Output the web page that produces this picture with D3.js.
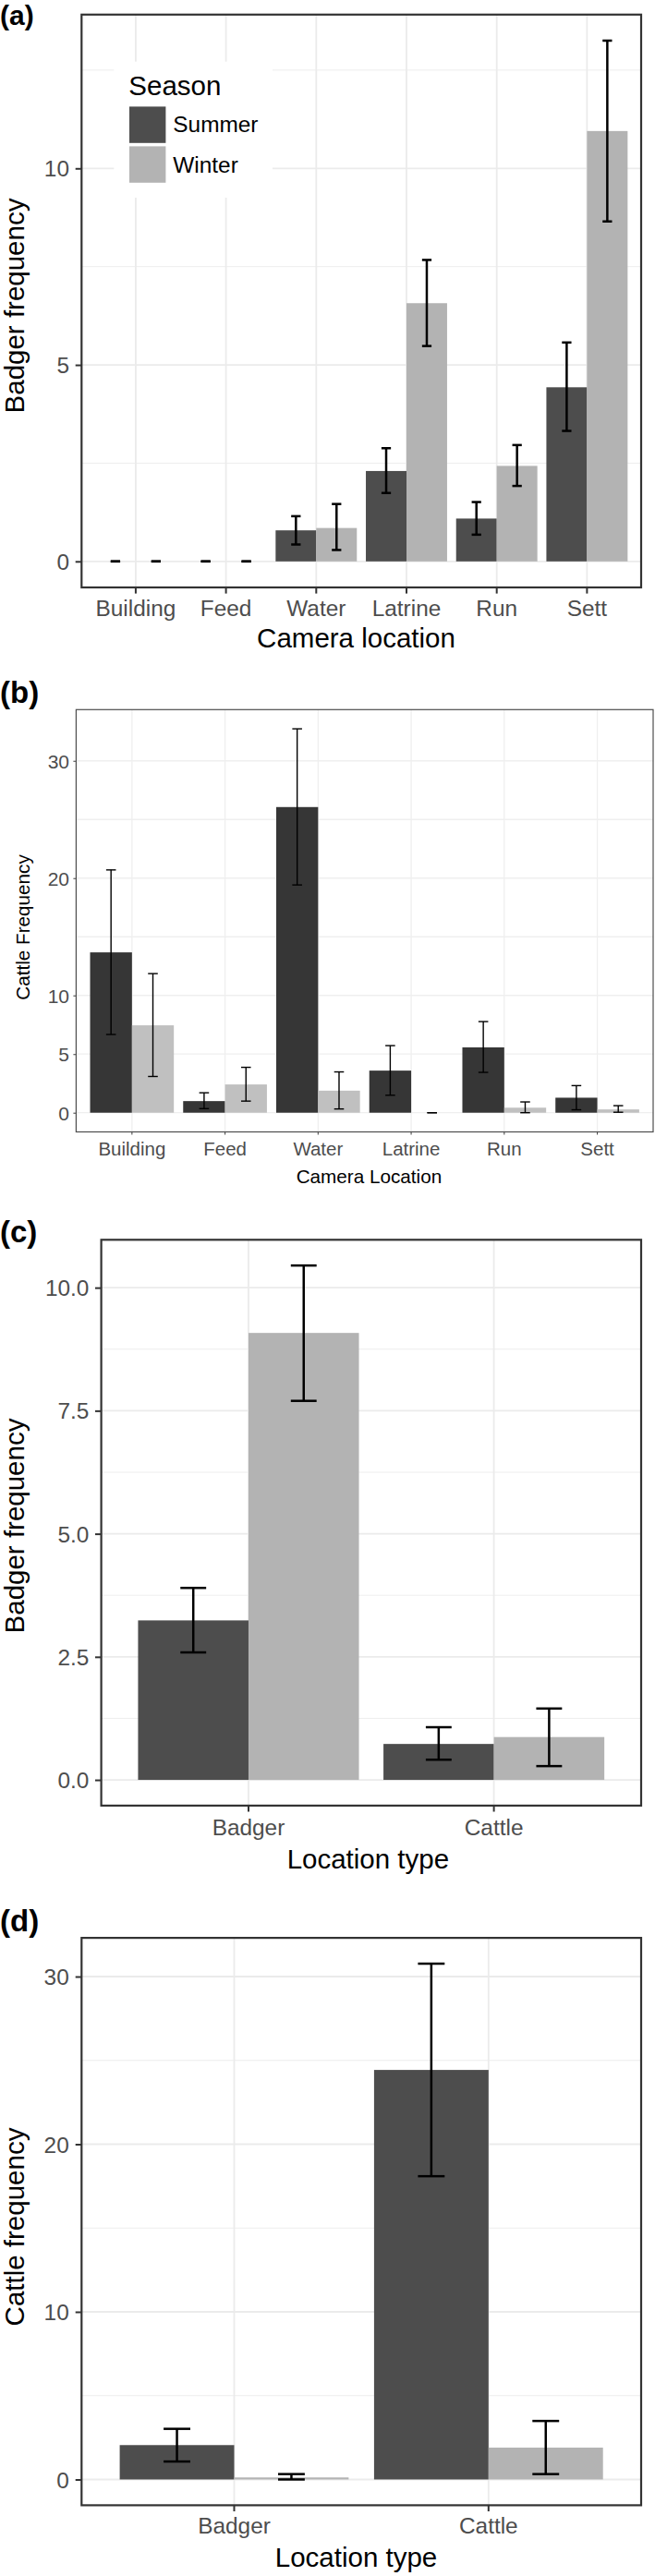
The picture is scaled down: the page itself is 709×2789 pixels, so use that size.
<!DOCTYPE html>
<html><head><meta charset="utf-8">
<script src="https://cdn.jsdelivr.net/npm/d3@7"></script>
<style>body{margin:0;background:#fff} svg{display:block}</style>
</head><body><svg id="chart" width="709" height="2789"></svg>
<script>
// ---------- data ----------
const seasons = ["Summer", "Winter"];
const locations = ["Building", "Feed", "Water", "Latrine", "Run", "Sett"];
const locationTypes = ["Badger", "Cattle"];

// (a) badger frequency by camera location
const badgerSummer   = [0, 0, 0.79, 2.30, 1.09, 4.43];
const badgerSummerLo = [0, 0, 0.43, 1.74, 0.68, 3.32];
const badgerSummerHi = [0, 0, 1.15, 2.88, 1.51, 5.57];
const badgerWinter   = [0, 0, 0.85, 6.57, 2.43, 10.95];
const badgerWinterLo = [0, 0, 0.29, 5.48, 1.92, 8.65];
const badgerWinterHi = [0, 0, 1.46, 7.67, 2.96, 13.25];

// (b) cattle frequency by camera location
const cattleSummer   = [13.67, 0.99, 26.06, 3.59, 5.57, 1.28];
const cattleSummerLo = [6.67, 0.35, 19.42, 1.49, 3.44, 0.25];
const cattleSummerHi = [20.70, 1.70, 32.73, 5.72, 7.77, 2.31];
const cattleWinter   = [7.45, 2.41, 1.88, 0, 0.43, 0.28];
const cattleWinterLo = [3.09, 0.99, 0.32, 0, 0.00, 0.04];
const cattleWinterHi = [11.86, 3.87, 3.48, 0, 0.92, 0.60];

// (c) badger frequency by location type
const typeBadgerSummer   = [3.24, 0.73];
const typeBadgerSummerLo = [2.59, 0.41];
const typeBadgerSummerHi = [3.90, 1.07];
const typeBadgerWinter   = [9.08, 0.87];
const typeBadgerWinterLo = [7.70, 0.28];
const typeBadgerWinterHi = [10.45, 1.45];

// (d) cattle frequency by location type
const typeCattleSummer   = [2.05, 24.43];
const typeCattleSummerLo = [1.07, 18.09];
const typeCattleSummerHi = [3.02, 30.77];
const typeCattleWinter   = [0.12, 1.90];
const typeCattleWinterLo = [0.00, 0.32];
const typeCattleWinterHi = [0.32, 3.49];

// tick labels
const ticksA = [0, 5, 10];
const minorA = [2.5, 7.5, 12.5];
const ticksB = [0, 5, 10, 20, 30];
const gridB = [0, 5, 10, 15, 20, 25, 30];
const ticksC = [0, 2.5, 5, 7.5, 10];
const minorC = [1.25, 3.75, 6.25, 8.75];
const ticksD = [0, 10, 20, 30];
const minorD = [5, 15, 25];

// ---------- drawing ----------
const FONT = "'Liberation Sans', Arial, Helvetica, sans-serif";
const svg = d3.select("#chart");
svg.append("rect").attr("width", 709).attr("height", 2789).attr("fill", "#fff");

function series(v, lo, hi) { return v.map((d, i) => ({ v: d, lo: lo[i], hi: hi[i] })); }

function drawPanel(o) {
  const g = svg.append("g");
  const x = d3.scaleBand().domain(o.cats).range([o.left, o.right]).paddingInner(0).paddingOuter(0.1);
  const step = x.step();
  const xs = d3.scaleBand().domain(seasons).range([-0.45 * step, 0.45 * step]);
  const all = o.data.flatMap(s => s.flatMap(d => [d.v, d.lo, d.hi]));
  const maxV = d3.max(all), minV = Math.min(0, d3.min(all));
  const pad = (maxV - minV) * 0.05;
  const y = d3.scaleLinear().domain([minV - pad, maxV + pad]).range([o.bottom, o.top]);
  const cx = c => x(c) + x.bandwidth() / 2;

  // gridlines
  g.selectAll(".minor").data(o.minor).join("line")
    .attr("x1", o.left).attr("x2", o.right).attr("y1", d => y(d)).attr("y2", d => y(d))
    .attr("stroke", o.gridColor).attr("stroke-width", o.minorW);
  g.selectAll(".major").data(o.grid).join("line")
    .attr("x1", o.left).attr("x2", o.right).attr("y1", d => y(d)).attr("y2", d => y(d))
    .attr("stroke", o.gridColor).attr("stroke-width", o.majorW);
  g.selectAll(".vgrid").data(o.cats).join("line")
    .attr("x1", d => cx(d)).attr("x2", d => cx(d)).attr("y1", o.top).attr("y2", o.bottom)
    .attr("stroke", o.gridColor).attr("stroke-width", o.majorW);

  // bars
  seasons.forEach((s, si) => {
    g.selectAll(".bar" + si).data(o.data[si]).join("rect")
      .attr("x", (d, i) => cx(o.cats[i]) + xs(s))
      .attr("width", xs.bandwidth())
      .attr("y", d => y(Math.max(0, d.v)))
      .attr("height", d => Math.abs(y(0) - y(d.v)))
      .attr("fill", o.colors[si]);
  });

  // error bars
  const capW = 0.105 * step;
  seasons.forEach((s, si) => {
    const eb = g.selectAll(".eb" + si).data(o.data[si]).join("g")
      .attr("transform", (d, i) => `translate(${cx(o.cats[i]) + xs(s) + xs.bandwidth() / 2},0)`);
    eb.append("line").attr("x1", 0).attr("x2", 0).attr("y1", d => y(d.lo)).attr("y2", d => y(d.hi))
      .attr("stroke", "#000").attr("stroke-width", o.ebW);
    eb.append("line").attr("x1", -capW / 2).attr("x2", capW / 2).attr("y1", d => y(d.lo)).attr("y2", d => y(d.lo))
      .attr("stroke", "#000").attr("stroke-width", o.ebW);
    eb.append("line").attr("x1", -capW / 2).attr("x2", capW / 2).attr("y1", d => y(d.hi)).attr("y2", d => y(d.hi))
      .attr("stroke", "#000").attr("stroke-width", o.ebW);
  });

  // border
  g.append("rect").attr("x", o.left).attr("y", o.top)
    .attr("width", o.right - o.left).attr("height", o.bottom - o.top)
    .attr("fill", "none").attr("stroke", o.borderColor).attr("stroke-width", o.borderW);

  // y axis
  const ya = g.append("g").attr("transform", `translate(${o.left},0)`)
    .call(d3.axisLeft(y).tickValues(o.ticks).tickFormat(o.fmt).tickSize(o.tickLen).tickPadding(o.yPad));
  ya.select(".domain").remove();
  ya.selectAll(".tick line").attr("stroke", o.borderColor).attr("stroke-width", o.tickW);
  ya.selectAll(".tick text").attr("font-family", FONT).attr("font-size", o.yTickSize)
    .attr("fill", "#4d4d4d").attr("dy", "0.35em");

  // x axis
  const xa = g.append("g").attr("transform", `translate(0,${o.bottom})`)
    .call(d3.axisBottom(x).tickSize(o.tickLen));
  xa.select(".domain").remove();
  xa.selectAll(".tick line").attr("stroke", o.borderColor).attr("stroke-width", o.tickW);
  xa.selectAll(".tick text").attr("font-family", FONT).attr("font-size", o.xTickSize)
    .attr("fill", "#4d4d4d").attr("y", o.xLabBase - o.bottom).attr("dy", 0);

  // axis titles
  g.append("text").attr("x", o.xTitleX).attr("y", o.xTitleBase).attr("text-anchor", "middle")
    .attr("font-family", FONT).attr("font-size", o.titleSize).attr("fill", "#000").text(o.xTitle);
  g.append("text").attr("transform", `translate(${o.yTitleX},${o.yTitleY}) rotate(-90)`)
    .attr("text-anchor", "middle").attr("font-family", FONT).attr("font-size", o.titleSize)
    .attr("fill", "#000").text(o.yTitle);

  // panel tag
  g.append("text").attr("x", 0).attr("y", o.tagBase).attr("font-family", FONT)
    .attr("font-weight", "bold").attr("font-size", o.tagSize).attr("fill", "#000").text(o.tag);

  // legend
  if (o.legend) {
    const L = g.append("g");
    L.append("rect").attr("x", 123.3).attr("y", 66.7).attr("width", 171.7).attr("height", 147.3).attr("fill", "#fff");
    L.append("text").attr("x", 139.3).attr("y", 102.7).attr("font-family", FONT).attr("font-size", 29.5)
      .attr("fill", "#000").text("Season");
    seasons.forEach((s, i) => {
      L.append("rect").attr("x", 140).attr("y", 115.4 + i * 43).attr("width", 39.4).attr("height", 39.4)
        .attr("fill", o.colors[i]);
      L.append("text").attr("x", 187.3).attr("y", 143.3 + i * 43.4).attr("font-family", FONT)
        .attr("font-size", 24.4).attr("fill", "#000").text(s);
    });
  }
}

const themeBW = {
  gridColor: "#ebebeb", majorW: 1.8, minorW: 0.9, borderColor: "#333333", borderW: 2.2,
  tickW: 2, tickLen: 6.6, ebW: 2.5, yTickSize: 24.4, xTickSize: 24.4, titleSize: 29.5,
  colors: ["#4d4d4d", "#b3b3b3"], tagSize: 33
};

drawPanel(Object.assign({}, themeBW, {
  cats: locations,
  data: [series(badgerSummer, badgerSummerLo, badgerSummerHi), series(badgerWinter, badgerWinterLo, badgerWinterHi)],
  left: 88.3, right: 694, top: 15.8, bottom: 636,
  ticks: ticksA, grid: ticksA, minor: minorA, fmt: d3.format("d"), yPad: 6.7,
  xLabBase: 666.7, xTitle: "Camera location", xTitleX: 385.5, xTitleBase: 700.8,
  yTitle: "Badger frequency", yTitleX: 26, yTitleY: 331,
  tag: "(a)", tagBase: 27, tagSize: 30, legend: true
}));

drawPanel({
  cats: locations,
  data: [series(cattleSummer, cattleSummerLo, cattleSummerHi), series(cattleWinter, cattleWinterLo, cattleWinterHi)],
  left: 82.4, right: 707, top: 768.3, bottom: 1225.5,
  ticks: ticksB, grid: gridB, minor: [], fmt: d3.format("d"), yPad: 4.4,
  gridColor: "#efefef", majorW: 1.3, minorW: 1, borderColor: "#4d4d4d", borderW: 1.2,
  tickW: 1.1, tickLen: 3, ebW: 1.4, yTickSize: 21, xTickSize: 20.5, titleSize: 20.7,
  colors: ["#363636", "#c0c0c0"],
  xLabBase: 1251, xTitle: "Camera Location", xTitleX: 399.4, xTitleBase: 1281,
  yTitle: "Cattle Frequency", yTitleX: 31.5, yTitleY: 1004,
  tag: "(b)", tagBase: 761, tagSize: 33
});

drawPanel(Object.assign({}, themeBW, {
  cats: locationTypes,
  data: [series(typeBadgerSummer, typeBadgerSummerLo, typeBadgerSummerHi), series(typeBadgerWinter, typeBadgerWinterLo, typeBadgerWinterHi)],
  left: 109.6, right: 694, top: 1342.3, bottom: 1954.9,
  ticks: ticksC, grid: ticksC, minor: minorC, fmt: d3.format(".1f"), yPad: 6.6,
  xLabBase: 1987.5, xTitle: "Location type", xTitleX: 398.4, xTitleBase: 2022.8,
  yTitle: "Badger frequency", yTitleX: 26, yTitleY: 1652,
  tag: "(c)", tagBase: 1345
}));

drawPanel(Object.assign({}, themeBW, {
  cats: locationTypes,
  data: [series(typeCattleSummer, typeCattleSummerLo, typeCattleSummerHi), series(typeCattleWinter, typeCattleWinterLo, typeCattleWinterHi)],
  left: 88.3, right: 694, top: 2098.1, bottom: 2712.4,
  ticks: ticksD, grid: ticksD, minor: minorD, fmt: d3.format("d"), yPad: 7,
  xLabBase: 2743.2, xTitle: "Location type", xTitleX: 385.5, xTitleBase: 2779.4,
  yTitle: "Cattle frequency", yTitleX: 26, yTitleY: 2411,
  tag: "(d)", tagBase: 2091
}));
</script>
</body></html>
